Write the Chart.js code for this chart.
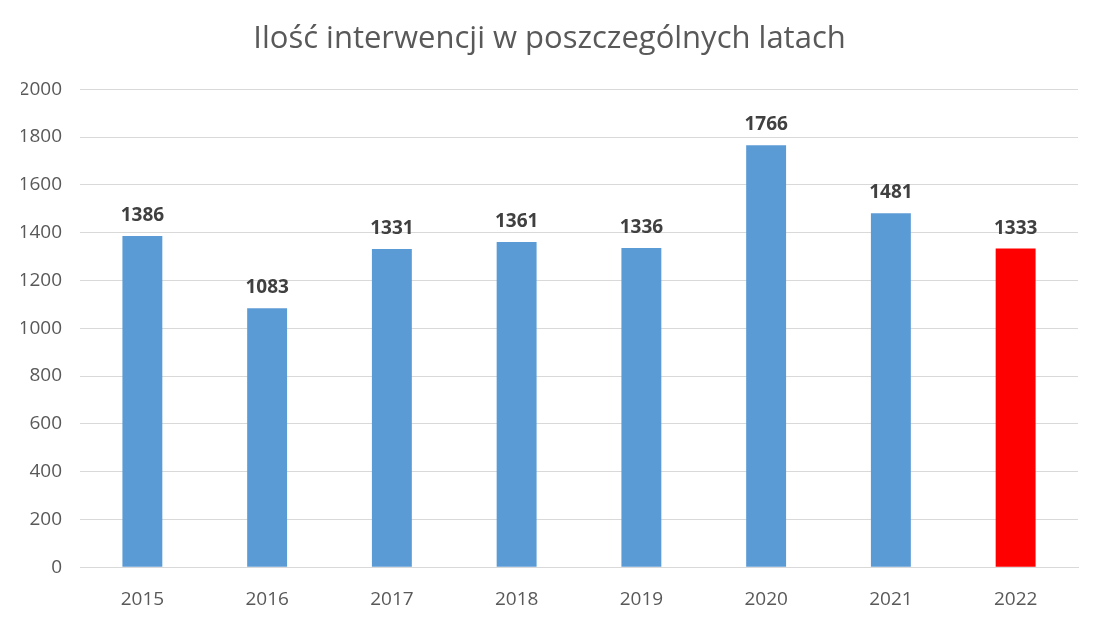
<!DOCTYPE html>
<html>
<head>
<meta charset="utf-8">
<script src="https://cdn.jsdelivr.net/npm/chart.js@4"></script>
<style>
  html, body { margin: 0; padding: 0; background: #fff; }
  #wrap { width: 1099px; height: 620px; }
</style>
</head>
<body>
<div id="wrap"><canvas id="chart" width="1099" height="620"></canvas></div>
<script>
const years = ['2015', '2016', '2017', '2018', '2019', '2020', '2021', '2022'];
const interventions = [1386, 1083, 1331, 1361, 1336, 1766, 1481, 1333];
const barColors = ['#5b9bd5', '#5b9bd5', '#5b9bd5', '#5b9bd5', '#5b9bd5', '#5b9bd5', '#5b9bd5', '#ff0000'];
const chartTitle = 'Ilość interwencji w poszczególnych latach';

// etykiety z wartościami nad słupkami
const valueLabels = {
  id: 'valueLabels',
  afterDatasetsDraw(chart) {
    const ctx = chart.ctx;
    const meta = chart.getDatasetMeta(0);
    ctx.save();
    ctx.font = 'bold 19px "Open Sans", sans-serif';
    ctx.fillStyle = '#404040';
    ctx.textAlign = 'center';
    ctx.textBaseline = 'bottom';
    meta.data.forEach((bar, i) => {
      ctx.fillText(interventions[i], bar.x, bar.y - 11);
    });
    ctx.restore();
  }
};

new Chart(document.getElementById('chart'), {
  type: 'bar',
  data: {
    labels: years,
    datasets: [{
      data: interventions,
      backgroundColor: barColors,
      categoryPercentage: 1,
      barPercentage: 0.32
    }]
  },
  options: {
    responsive: false,
    animation: false,
    layout: { padding: { left: 21, right: 21, top: 10, bottom: 1 } },
    plugins: {
      legend: { display: false },
      tooltip: { enabled: false },
      title: {
        display: true,
        text: chartTitle,
        color: '#595959',
        font: { family: '"Open Sans", sans-serif', size: 31, weight: 'normal' },
        padding: { top: 11, bottom: 31 }
      }
    },
    scales: {
      x: {
        grid: { display: false },
        border: { color: '#d9d9d9' },
        afterFit(axis) { axis.height -= 5; },
        ticks: { color: '#595959', font: { family: '"Open Sans", sans-serif', size: 19 }, padding: 13 }
      },
      y: {
        min: 0,
        max: 2000,
        afterFit(axis) { axis.width = 59; },
        ticks: {
          stepSize: 200,
          color: '#595959',
          font: { family: '"Open Sans", sans-serif', size: 19 },
          padding: 18,
          callback: v => String(v)
        },
        grid: { color: '#d9d9d9', drawTicks: false },
        border: { display: false }
      }
    }
  },
  plugins: [valueLabels]
});
</script>
</body>
</html>
